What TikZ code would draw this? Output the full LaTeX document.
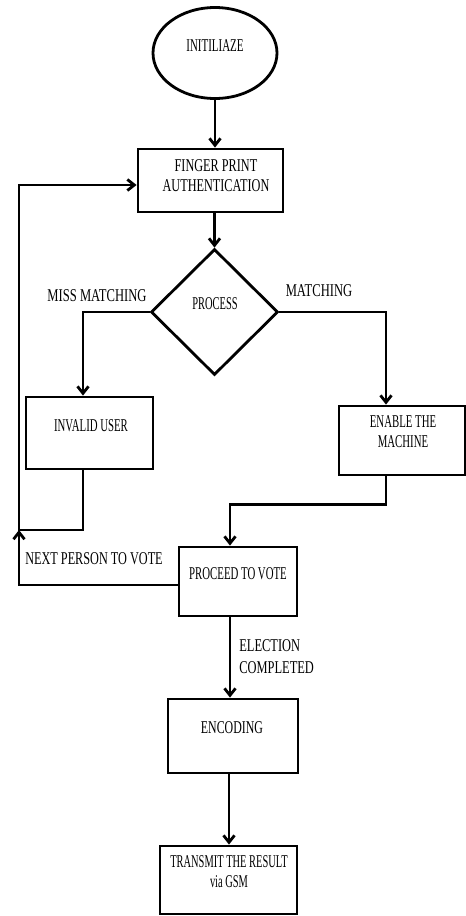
\documentclass[tikz,border=0pt]{standalone}
\usepackage{fontspec}
\setmainfont{Liberation Serif}
\usepackage{graphicx}
\usetikzlibrary{arrows.meta,shapes.geometric,calc}
\newcommand\sqz[2][0.62]{\scalebox{#1}[1]{\begin{tabular}{@{}c@{}}#2\end{tabular}}}
\begin{document}
\begin{tikzpicture}[x=1pt,y=-1pt,line width=2.8pt,
  font=\fontsize{18}{20}\selectfont,
  box/.style={draw,rectangle,inner sep=0pt},
  txt/.style={inner sep=0pt},
  arr/.style={-{Straight Barb[length=7pt,width=11pt]}}]
\useasboundingbox[fill=white] (0,0) rectangle (466,916);
% shapes
\node[draw,ellipse,inner sep=0pt,minimum width=124pt,minimum height=91pt] (init) at (215,53) {};
\node[box,minimum width=145pt,minimum height=63pt] (fp) at (210.5,180.5) {};
\node[draw,diamond,inner sep=0pt,minimum width=127pt,minimum height=126pt] (proc) at (214.5,312) {};
\node[box,minimum width=127pt,minimum height=72pt] (inv) at (89.5,433) {};
\node[box,minimum width=126pt,minimum height=69pt] (en) at (402,440.5) {};
\node[box,minimum width=118pt,minimum height=69pt] (pv) at (238,581.5) {};
\node[box,minimum width=130pt,minimum height=74pt] (enc) at (233,736) {};
\node[box,minimum width=137pt,minimum height=68pt] (tr) at (228.5,880) {};
% texts
\node[txt] (tinit) at (215,47) {\sqz[0.61]{INITILIAZE}};
\node[txt] (tfp) at (216,177) {\sqz[0.68]{FINGER PRINT\\AUTHENTICATION}};
\node[txt] (tproc) at (215,305) {\sqz[0.58]{PROCESS}};
\node[txt] (tmm) at (97,297) {\sqz[0.7]{MISS MATCHING}};
\node[txt] (tm) at (319,292) {\sqz[0.7]{MATCHING}};
\node[txt] (tinv) at (91,427) {\sqz[0.6]{INVALID USER}};
\node[txt] (ten) at (403,433) {\sqz[0.6]{ENABLE THE\\MACHINE}};
\node[txt] (tnp) at (94,560) {\sqz[0.68]{NEXT PERSON TO VOTE}};
\node[txt] (tpv) at (238,575) {\sqz[0.6]{PROCEED TO VOTE}};
\node[txt,anchor=west] (tec) at (238,658) {\scalebox{0.69}[1]{\begin{tabular}{@{}l@{}}ELECTION\\[2pt]COMPLETED\end{tabular}}};
\node[txt] (tenc) at (232,729) {\sqz[0.66]{ENCODING}};
\node[txt] (ttr) at (229,873) {\sqz[0.58]{TRANSMIT THE RESULT\\via GSM}};
% coordinates
\coordinate (jn) at (19,530);
\coordinate (pvs) at ([xshift=-8pt]pv.south);
\coordinate (encs) at ([xshift=-4pt]enc.south);
% connectors
\draw[arr] (init.south) -- (init.south |- fp.north);
\draw[arr] (proc.north |- fp.south) -- (proc.north);
\draw[arr] (proc.west) -| ([xshift=-6.5pt]inv.north);
\draw[arr] (proc.east) -| ([xshift=-16pt]en.north);
\draw[arr] ([xshift=-16pt]en.south) -- ++(0,28) -| ([xshift=-8pt]pv.north);
\draw[arr] ([xshift=-6.5pt]inv.south) |- (jn) |- ([yshift=-4.5pt]fp.west);
\draw[arr] ([yshift=-3.5pt]pv.west) -| (jn);
\draw[arr] (pvs) -- (pvs |- enc.north);
\draw[arr] (encs) -- (encs |- tr.north);
\end{tikzpicture}
\end{document}
